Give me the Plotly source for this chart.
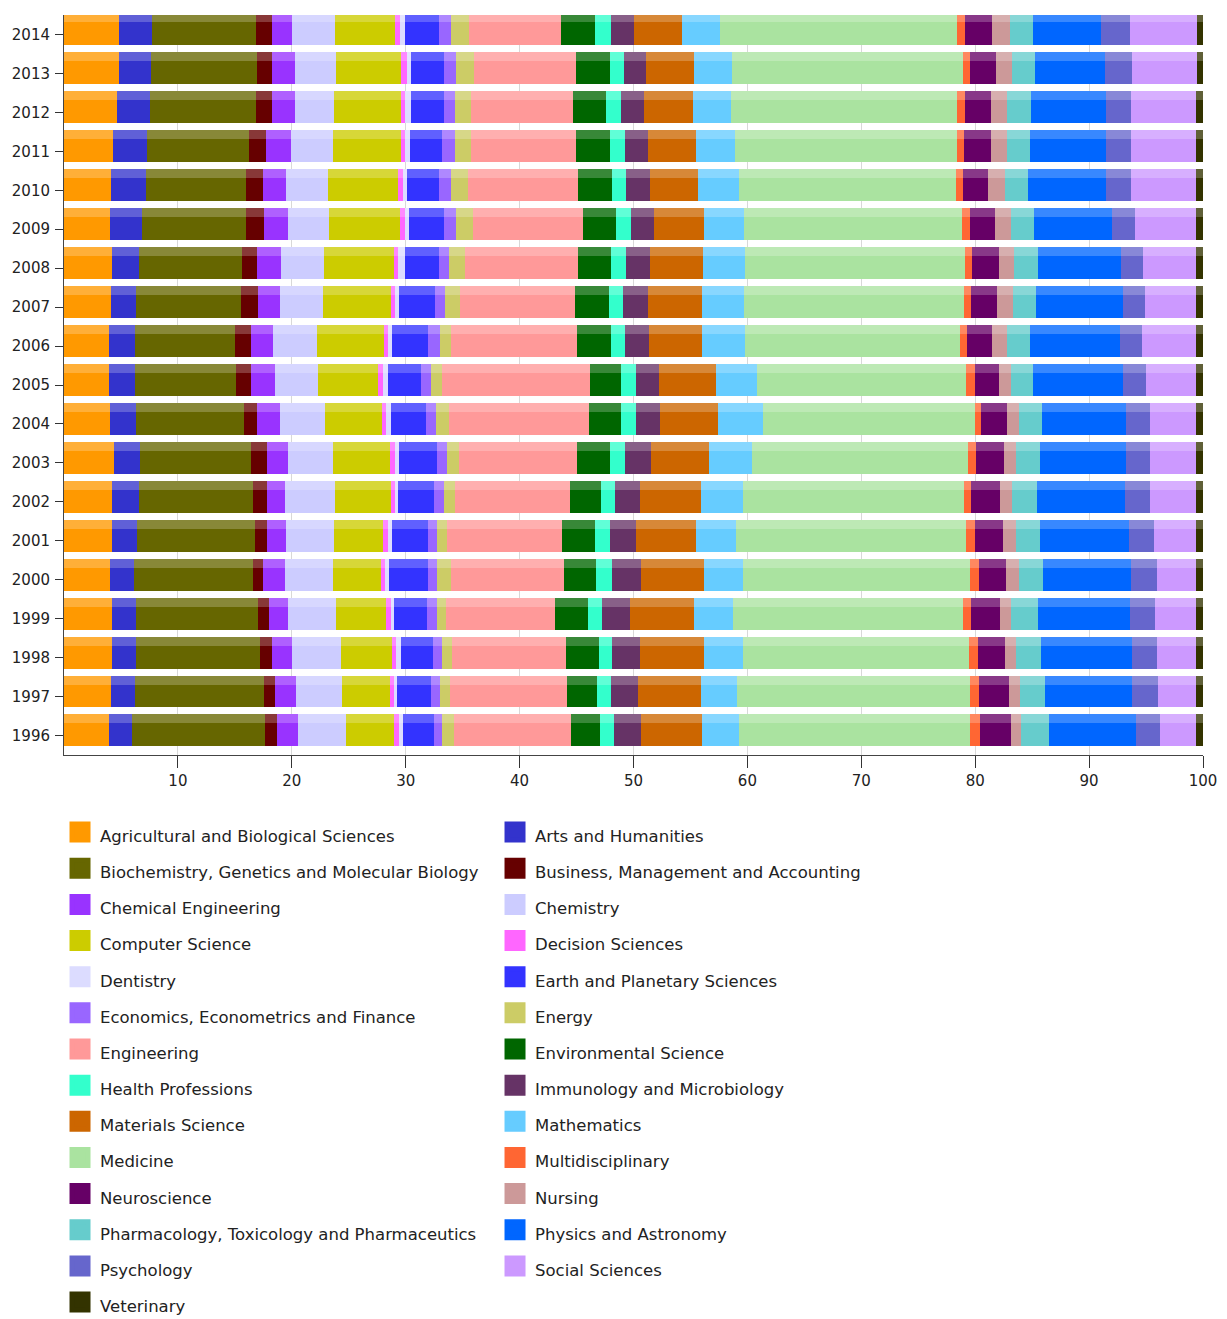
import plotly.graph_objects as go

years = [str(y) for y in range(1996, 2015)]

agri = [3.94, 4.15, 4.24, 4.24, 4.06, 4.24, 4.24, 4.35, 4.06, 3.92, 3.92, 4.09, 4.24, 4.06, 4.15, 4.30, 4.68, 4.82, 4.79]
arts = [2.05, 2.05, 2.05, 2.10, 2.05, 2.16, 2.31, 2.29, 2.23, 2.28, 2.28, 2.25, 2.31, 2.81, 3.01, 2.98, 2.84, 2.84, 2.96]
biochem = [11.68, 11.32, 10.88, 10.69, 10.48, 10.39, 10.04, 9.80, 9.48, 8.92, 8.78, 9.22, 9.10, 9.12, 8.78, 8.93, 9.30, 9.28, 9.13]
business = [1.05, 0.97, 1.09, 0.93, 0.88, 1.03, 1.23, 1.38, 1.17, 1.32, 1.46, 1.47, 1.29, 1.56, 1.53, 1.49, 1.47, 1.35, 1.35]
chem_eng = [1.82, 1.84, 1.78, 1.70, 1.96, 1.64, 1.61, 1.84, 1.99, 2.05, 1.90, 1.90, 2.13, 2.11, 2.04, 2.19, 1.96, 1.96, 1.81]
chemistry = [4.24, 4.10, 4.24, 4.19, 4.18, 4.21, 4.39, 3.95, 4.01, 3.80, 3.87, 3.80, 3.75, 3.60, 3.66, 3.72, 3.45, 3.60, 3.75]
comp_sci = [4.19, 4.16, 4.51, 4.44, 4.25, 4.33, 4.85, 4.98, 5.00, 5.27, 5.85, 5.94, 6.14, 6.20, 6.15, 5.94, 5.85, 5.76, 5.24]
decision = [0.41, 0.38, 0.38, 0.38, 0.29, 0.44, 0.35, 0.43, 0.36, 0.44, 0.38, 0.35, 0.36, 0.44, 0.44, 0.35, 0.35, 0.53, 0.43]
dentistry = [0.38, 0.29, 0.38, 0.29, 0.38, 0.35, 0.30, 0.39, 0.37, 0.44, 0.38, 0.39, 0.58, 0.38, 0.38, 0.44, 0.53, 0.35, 0.44]
earth = [2.72, 2.93, 2.84, 2.93, 3.42, 3.16, 3.16, 3.36, 3.08, 2.93, 3.13, 3.13, 3.02, 3.05, 2.78, 2.87, 2.90, 2.84, 3.02]
economics = [0.73, 0.79, 0.82, 0.88, 0.82, 0.82, 0.85, 0.85, 0.87, 0.87, 1.03, 0.88, 0.88, 1.05, 1.08, 1.09, 1.03, 1.05, 1.03]
energy = [1.00, 0.88, 0.85, 0.74, 1.18, 0.85, 0.97, 1.03, 1.18, 0.97, 1.02, 1.32, 1.37, 1.53, 1.47, 1.46, 1.40, 1.61, 1.58]
engineering = [10.33, 10.33, 10.04, 9.57, 9.95, 10.10, 10.09, 10.42, 12.29, 12.94, 11.07, 10.09, 9.95, 9.65, 9.65, 9.22, 8.93, 8.93, 8.07]
environmental = [2.55, 2.60, 2.84, 2.92, 2.83, 2.87, 2.73, 2.89, 2.84, 2.78, 2.92, 3.02, 2.93, 2.93, 3.02, 2.93, 2.92, 2.99, 3.02]
health = [1.20, 1.20, 1.20, 1.23, 1.38, 1.32, 1.28, 1.26, 1.32, 1.26, 1.23, 1.23, 1.26, 1.26, 1.23, 1.31, 1.32, 1.25, 1.37]
immunology = [2.40, 2.40, 2.40, 2.49, 2.58, 2.34, 2.14, 2.28, 2.10, 2.02, 2.11, 2.19, 2.17, 2.02, 2.05, 2.05, 1.99, 1.96, 2.05]
materials = [5.35, 5.56, 5.62, 5.56, 5.50, 5.26, 5.41, 5.10, 5.07, 5.00, 4.68, 4.74, 4.62, 4.39, 4.24, 4.24, 4.30, 4.19, 4.22]
mathematics = [3.19, 3.14, 3.45, 3.45, 3.42, 3.46, 3.66, 3.80, 3.95, 3.63, 3.75, 3.69, 3.72, 3.54, 3.57, 3.43, 3.37, 3.34, 3.30]
medicine = [20.34, 20.42, 19.84, 20.19, 19.96, 20.25, 19.37, 18.96, 18.58, 18.38, 18.93, 19.31, 19.31, 19.17, 19.05, 19.46, 19.84, 20.27, 20.87]
multidisciplinary = [0.82, 0.79, 0.79, 0.74, 0.73, 0.73, 0.68, 0.74, 0.58, 0.73, 0.61, 0.65, 0.61, 0.64, 0.64, 0.61, 0.70, 0.65, 0.70]
neuroscience = [2.72, 2.66, 2.40, 2.48, 2.43, 2.49, 2.48, 2.42, 2.26, 2.13, 2.20, 2.25, 2.32, 2.19, 2.20, 2.34, 2.28, 2.22, 2.37]
nursing = [0.94, 0.94, 0.97, 1.03, 1.08, 1.11, 1.12, 1.03, 1.05, 1.03, 1.32, 1.40, 1.34, 1.41, 1.46, 1.44, 1.41, 1.47, 1.52]
pharmacology = [2.40, 2.25, 2.19, 2.34, 2.14, 2.11, 2.16, 2.11, 2.05, 1.96, 1.96, 2.05, 2.11, 2.05, 2.05, 2.05, 2.05, 1.96, 2.05]
physics = [7.63, 7.64, 7.99, 8.05, 7.75, 7.81, 7.70, 7.55, 7.37, 7.90, 7.90, 7.61, 7.32, 6.85, 6.82, 6.61, 6.64, 6.20, 6.00]
psychology = [2.11, 2.26, 2.17, 2.19, 2.26, 2.22, 2.19, 2.10, 2.05, 1.99, 1.99, 1.90, 1.90, 2.04, 2.25, 2.25, 2.19, 2.34, 2.55]
social = [3.22, 3.36, 3.45, 3.66, 3.45, 3.72, 4.10, 4.10, 4.10, 4.45, 4.74, 4.54, 4.68, 5.36, 5.71, 5.71, 5.71, 5.71, 5.85]
veterinary = [0.59, 0.59, 0.59, 0.59, 0.59, 0.59, 0.59, 0.59, 0.59, 0.59, 0.59, 0.59, 0.59, 0.59, 0.59, 0.59, 0.59, 0.53, 0.53]

subject_names = [
    "Agricultural and Biological Sciences", "Arts and Humanities",
    "Biochemistry, Genetics and Molecular Biology", "Business, Management and Accounting",
    "Chemical Engineering", "Chemistry", "Computer Science", "Decision Sciences",
    "Dentistry", "Earth and Planetary Sciences", "Economics, Econometrics and Finance",
    "Energy", "Engineering", "Environmental Science", "Health Professions",
    "Immunology and Microbiology", "Materials Science", "Mathematics", "Medicine",
    "Multidisciplinary", "Neuroscience", "Nursing",
    "Pharmacology, Toxicology and Pharmaceutics", "Physics and Astronomy",
    "Psychology", "Social Sciences", "Veterinary",
]
subject_values = [
    agri, arts, biochem, business, chem_eng, chemistry, comp_sci, decision,
    dentistry, earth, economics, energy, engineering, environmental, health,
    immunology, materials, mathematics, medicine, multidisciplinary, neuroscience,
    nursing, pharmacology, physics, psychology, social, veterinary,
]
x_ticks = [10, 20, 30, 40, 50, 60, 70, 80, 90, 100]

colors = [
    "#FF9900", "#3333CC", "#666600", "#660000", "#9933FF", "#CCCCFF", "#CCCC00",
    "#FF66FF", "#DCDCFF", "#3333FF", "#9966FF", "#CCCC66", "#FF9999", "#006600",
    "#33FFCC", "#663366", "#CC6600", "#66CCFF", "#AAE3A0", "#FF6633", "#660066",
    "#CC9999", "#66CCCC", "#0066FF", "#6666CC", "#CC99FF", "#333300",
]


def lighten(hex_color, amount=0.22):
    h = hex_color.lstrip("#")
    rgb = [int(h[i:i + 2], 16) for i in (0, 2, 4)]
    rgb = [round(c + (255 - c) * amount) for c in rgb]
    return "#" + "".join(f"{c:02X}" for c in rgb)


FONT = "DejaVu Sans, Verdana, sans-serif"

fig = go.Figure()
# front faces
for name, vals, col in zip(subject_names, subject_values, colors):
    fig.add_trace(go.Bar(
        y=years, x=vals, orientation="h", name=name,
        width=0.59, offset=-0.28,
        marker=dict(color=col, line=dict(width=0)),
        showlegend=False,
    ))
# lighter top faces (pseudo-3D), stacked on their own overlaid axis
for name, vals, col in zip(subject_names, subject_values, colors):
    fig.add_trace(go.Bar(
        y=years, x=vals, orientation="h", name=name, yaxis="y2",
        width=0.23, offset=0.31,
        marker=dict(color=lighten(col), line=dict(width=0)),
        showlegend=False, hoverinfo="skip",
    ))
# legend swatches
for name, col in zip(subject_names, colors):
    fig.add_trace(go.Scatter(
        x=[None], y=[None], mode="markers",
        name=f'<span style="font-size:16.5px">{name}</span>',
        marker=dict(symbol="square", size=16, color=col, line=dict(color=col, width=5)),
        showlegend=True, hoverinfo="skip",
    ))

yrange = [-0.5, len(years) - 0.5]

# page body adds an 8px offset; figure is sized so plot lands where the reference has it
fig.update_layout(
    width=1219, height=1311, autosize=False,
    margin=dict(l=56, r=24, t=7, b=564, autoexpand=False),
    paper_bgcolor="white", plot_bgcolor="white",
    barmode="stack", barnorm="percent",
    font=dict(family=FONT, color="#222222", size=15),
    xaxis=dict(
        range=[0, 100], tickvals=x_ticks, ticktext=[str(t) for t in x_ticks],
        ticks="outside", ticklen=12, tickcolor="#333333",
        showline=True, linecolor="#444444", linewidth=1,
        showgrid=True, gridcolor="#D8D8D8", zeroline=False,
        tickfont=dict(size=15, family=FONT, color="#222222"),
        automargin=False,
    ),
    yaxis=dict(
        type="category", categoryorder="array", categoryarray=years, range=yrange,
        ticks="outside", ticklen=8, tickcolor="#333333",
        showline=True, linecolor="#444444", linewidth=1,
        showgrid=False, ticklabelstandoff=2,
        tickfont=dict(size=15, family=FONT, color="#222222"),
        automargin=False,
    ),
    yaxis2=dict(
        type="category", categoryorder="array", categoryarray=years, range=yrange,
        overlaying="y", side="left", showticklabels=False, ticks="",
        showline=False, showgrid=False, zeroline=False, automargin=False,
    ),
    legend=dict(
        orientation="h", traceorder="normal",
        x=-0.0035, xanchor="left", y=-0.073, yanchor="top",
        entrywidth=390, entrywidthmode="pixels",
        font=dict(size=25.5, family=FONT, color="#222222"),
        itemclick=False, itemdoubleclick=False,
        bgcolor="rgba(0,0,0,0)",
    ),
)

fig.write_html("out.html")
